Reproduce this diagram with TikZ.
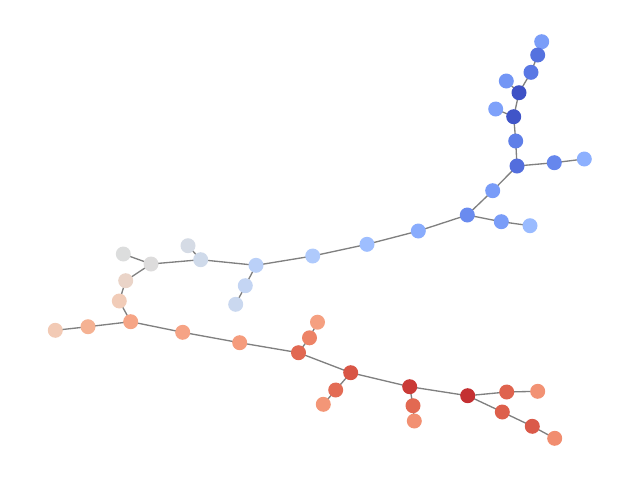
\documentclass[tikz,border=0pt]{standalone}
\usetikzlibrary{backgrounds}
\definecolor{cA1}{HTML}{7A9DF8}\definecolor{cA2}{HTML}{5572DF}\definecolor{cA3}{HTML}{5A78E4}
\definecolor{cA4}{HTML}{7396F5}\definecolor{cA5}{HTML}{3E51C5}\definecolor{cA6}{HTML}{7EA1FA}
\definecolor{cA7}{HTML}{4055C8}\definecolor{cA8}{HTML}{5F7FE8}\definecolor{cA9}{HTML}{536EDD}
\definecolor{cA10}{HTML}{6687ED}\definecolor{cA11}{HTML}{8DB0FE}\definecolor{cA12}{HTML}{799CF8}
\definecolor{cA13}{HTML}{6A8BEF}\definecolor{cA14}{HTML}{7A9DF8}\definecolor{cA15}{HTML}{9ABBFF}
\definecolor{cB1}{HTML}{AFCAFC}\definecolor{cB2}{HTML}{9EBEFF}\definecolor{cB3}{HTML}{89ACFD}
\definecolor{cC1}{HTML}{DCDDDD}\definecolor{cC2}{HTML}{DDDCDC}\definecolor{cC3}{HTML}{D5DBE5}
\definecolor{cC4}{HTML}{CFDAEA}\definecolor{cC5}{HTML}{BAD0F8}\definecolor{cC6}{HTML}{C4D5F3}
\definecolor{cC7}{HTML}{CAD8EF}\definecolor{cC8}{HTML}{EAD4C8}\definecolor{cC9}{HTML}{F1CCB8}
\definecolor{cC10}{HTML}{F6A586}\definecolor{cC11}{HTML}{F5B293}\definecolor{cC12}{HTML}{F2CAB5}
\definecolor{cC13}{HTML}{F6A385}\definecolor{cC14}{HTML}{F59C7D}
\definecolor{cD0}{HTML}{F5A081}\definecolor{cD1}{HTML}{ED8366}\definecolor{cD2}{HTML}{E16852}
\definecolor{cD3}{HTML}{D85646}\definecolor{cD4}{HTML}{E36C55}\definecolor{cD5}{HTML}{F39677}
\definecolor{cD6}{HTML}{CA3B37}\definecolor{cD7}{HTML}{E26952}\definecolor{cD8}{HTML}{F29072}
\definecolor{cD9}{HTML}{C43032}\definecolor{cD10}{HTML}{DF634E}\definecolor{cD11}{HTML}{F29274}
\definecolor{cD12}{HTML}{DD5F4B}\definecolor{cD13}{HTML}{DA5A49}\definecolor{cD14}{HTML}{F18D6F}
\begin{document}
\begin{tikzpicture}[x=0.75pt,y=-0.75pt,
  n/.style={circle,inner sep=0pt,minimum size=11.25pt,draw=none},
  e/.style={draw=black!50,line width=1pt}]
\useasboundingbox (0,0) rectangle (640,480);
% nodes
\node[n,fill=cA1] (A1) at (541.7,41.7) {};
\node[n,fill=cA2] (A2) at (537.7,55) {};
\node[n,fill=cA3] (A3) at (531,72.3) {};
\node[n,fill=cA4] (A4) at (506.3,81) {};
\node[n,fill=cA5] (A5) at (519,92.7) {};
\node[n,fill=cA6] (A6) at (495.7,109) {};
\node[n,fill=cA7] (A7) at (513.7,116.7) {};
\node[n,fill=cA8] (A8) at (515.7,141) {};
\node[n,fill=cA9] (A9) at (517,166) {};
\node[n,fill=cA10] (A10) at (554.3,162.7) {};
\node[n,fill=cA11] (A11) at (584.3,159) {};
\node[n,fill=cA12] (A12) at (492.7,190.7) {};
\node[n,fill=cA13] (A13) at (467.3,215) {};
\node[n,fill=cA14] (A14) at (501.3,221.7) {};
\node[n,fill=cA15] (A15) at (530,225.7) {};
\node[n,fill=cB1] (B1) at (312.7,256) {};
\node[n,fill=cB2] (B2) at (367,244.3) {};
\node[n,fill=cB3] (B3) at (418.3,231) {};
\node[n,fill=cC1] (C1) at (123.3,254) {};
\node[n,fill=cC2] (C2) at (151,264) {};
\node[n,fill=cC3] (C3) at (188,245.7) {};
\node[n,fill=cC4] (C4) at (200.7,259.7) {};
\node[n,fill=cC5] (C5) at (256,265.3) {};
\node[n,fill=cC6] (C6) at (245.3,285.7) {};
\node[n,fill=cC7] (C7) at (235.7,304.3) {};
\node[n,fill=cC8] (C8) at (125.7,280.7) {};
\node[n,fill=cC9] (C9) at (119.3,301) {};
\node[n,fill=cC10] (C10) at (130.7,321.7) {};
\node[n,fill=cC11] (C11) at (88,326.7) {};
\node[n,fill=cC12] (C12) at (55.3,330.3) {};
\node[n,fill=cC13] (C13) at (182.7,332.3) {};
\node[n,fill=cC14] (C14) at (239.7,342.7) {};
\node[n,fill=cD0] (D0) at (317.5,322.2) {};
\node[n,fill=cD1] (D1) at (309.5,337.8) {};
\node[n,fill=cD2] (D2) at (298.5,352.7) {};
\node[n,fill=cD3] (D3) at (350.7,372.7) {};
\node[n,fill=cD4] (D4) at (335.7,390) {};
\node[n,fill=cD5] (D5) at (323.3,404.3) {};
\node[n,fill=cD6] (D6) at (409.7,386.7) {};
\node[n,fill=cD7] (D7) at (413,405.7) {};
\node[n,fill=cD8] (D8) at (414.3,421) {};
\node[n,fill=cD9] (D9) at (467.7,395.7) {};
\node[n,fill=cD10] (D10) at (506.7,392) {};
\node[n,fill=cD11] (D11) at (537.7,391.3) {};
\node[n,fill=cD12] (D12) at (502.3,412) {};
\node[n,fill=cD13] (D13) at (532.3,426.3) {};
\node[n,fill=cD14] (D14) at (554.7,438.3) {};
% edges
\begin{pgfonlayer}{background}
\foreach \a/\b in {A1/A2,A2/A3,A3/A5,A4/A5,A5/A7,A6/A7,A7/A8,A8/A9,A9/A10,A10/A11,A9/A12,A12/A13,A13/A14,A14/A15,A13/B3,B3/B2,B2/B1,B1/C5,C5/C6,C6/C7,C5/C4,C4/C3,C4/C2,C2/C1,C2/C8,C8/C9,C9/C10,C10/C11,C11/C12,C10/C13,C13/C14,C14/D2,D2/D1,D1/D0,D2/D3,D3/D4,D4/D5,D3/D6,D6/D7,D7/D8,D6/D9,D9/D10,D10/D11,D9/D12,D12/D13,D13/D14}
  {\draw[e] (\a.center) -- (\b.center);}
\end{pgfonlayer}
\end{tikzpicture}
\end{document}
